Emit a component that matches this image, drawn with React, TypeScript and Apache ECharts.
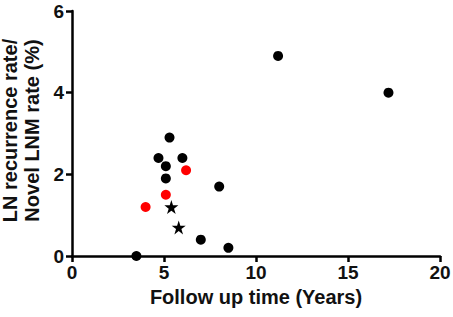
import React, { useEffect, useRef } from "react";
import * as echarts from "echarts";

const xTicks = [0, 5, 10, 15, 20];
const yTicks = [0, 2, 4, 6];

const blackX = [3.5, 4.7, 5.1, 5.1, 5.3, 6.0, 7.0, 8.0, 8.5, 11.2, 17.2];
const blackY = [0, 2.4, 2.2, 1.9, 2.9, 2.4, 0.4, 1.7, 0.2, 4.9, 4.0];
const redX = [4.0, 5.1, 6.2];
const redY = [1.2, 1.5, 2.1];
const starX = [5.4, 5.8];
const starY = [1.2, 0.7];

const xTitle = "Follow up time (Years)";
const yTitle = "LN recurrence rate/\nNovel LNM rate (%)";

const zip = (xs: number[], ys: number[]) => xs.map((x, i) => [x, ys[i]]);

export default function App() {
  const ref = useRef<HTMLDivElement>(null);
  useEffect(() => {
    if (!ref.current) return;
    const chart = echarts.init(ref.current, undefined, { renderer: "svg" });
    const font = "'Liberation Sans', Arial, sans-serif";
    const axisCommon = {
      axisLine: { show: true, lineStyle: { color: "#000", width: 2.5 } },
      axisTick: { show: true, length: 6, lineStyle: { color: "#000", width: 2.5 } },
      splitLine: { show: false },
      nameLocation: "middle" as const,
    };
    chart.setOption({
      animation: false,
      backgroundColor: "#fff",
      grid: { left: 72, right: 13, top: 11, bottom: 61, containLabel: false, outerBoundsMode: "none" },
      xAxis: {
        ...axisCommon,
        type: "value",
        min: xTicks[0],
        max: xTicks[xTicks.length - 1],
        interval: 5,
        name: xTitle,
        nameGap: 31,
        nameTextStyle: { fontFamily: font, fontWeight: "bold", fontSize: 20, color: "#111" },
        axisLabel: { fontFamily: font, fontWeight: "bold", fontSize: 19, color: "#111", margin: 7 },
      },
      yAxis: {
        ...axisCommon,
        type: "value",
        min: yTicks[0],
        max: yTicks[yTicks.length - 1],
        interval: 2,
        name: yTitle,
        nameGap: 28,
        nameTextStyle: { fontFamily: font, fontWeight: "bold", fontSize: 20, color: "#111", lineHeight: 22, align: "center", padding: [0, 0, 0, 6] },
        axisLabel: { fontFamily: font, fontWeight: "bold", fontSize: 19, color: "#111", margin: 8 },
      },
      series: [
        { type: "scatter", data: zip(blackX, blackY), symbol: "circle", symbolSize: 10, itemStyle: { color: "#000", opacity: 1 }, clip: false, z: 5 },
        { type: "scatter", data: zip(redX, redY), symbol: "circle", symbolSize: 10, itemStyle: { color: "#ff0000", opacity: 1 }, clip: false, z: 5 },
        {
          type: "scatter",
          data: zip(starX, starY),
          symbol: "path://M50,0 L61.8,36.2 L100,36.2 L69.1,58.8 L80.9,95.1 L50,72.7 L19.1,95.1 L30.9,58.8 L0,36.2 L38.2,36.2 Z",
          symbolSize: 14,
          itemStyle: { color: "#000", opacity: 1 },
          clip: false,
          z: 5,
        },
      ],
    });
    return () => chart.dispose();
  }, []);
  return <div ref={ref} style={{ position: "absolute", left: 0, top: 0, width: 453, height: 317 }} />;
}
